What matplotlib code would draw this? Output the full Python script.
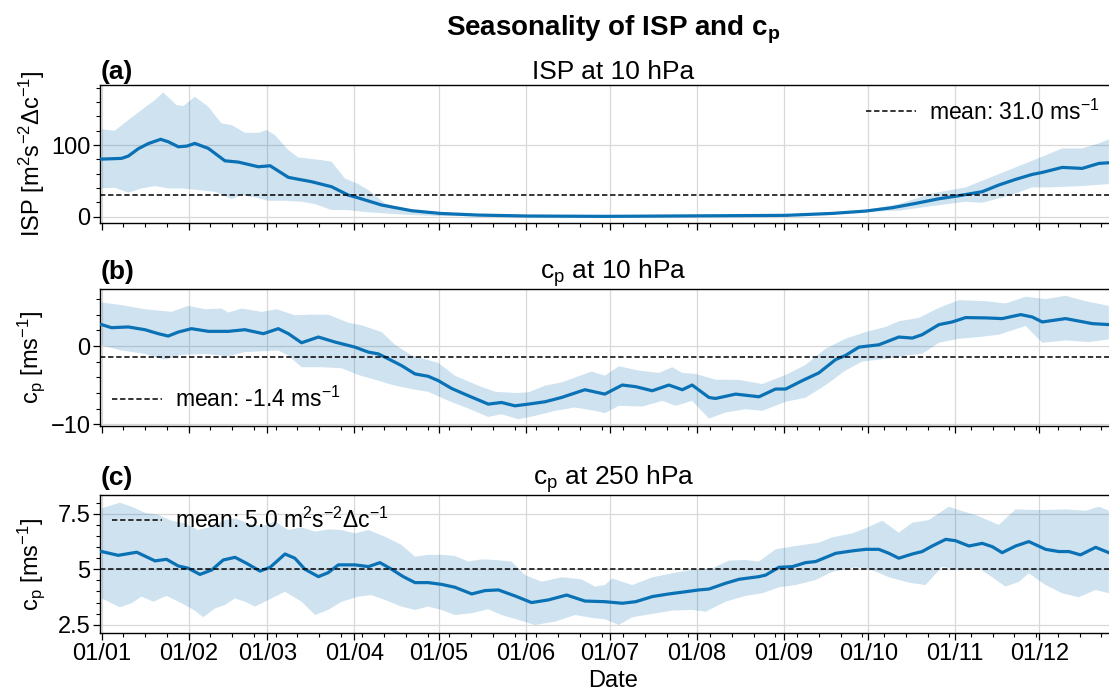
import numpy as np
import matplotlib.pyplot as plt
from matplotlib.ticker import FixedLocator, MultipleLocator

plt.rcParams['font.family'] = ['Liberation Sans', 'DejaVu Sans']
plt.rcParams['mathtext.fontset'] = 'custom'
plt.rcParams['mathtext.rm'] = 'Liberation Sans'
plt.rcParams['mathtext.it'] = 'Liberation Sans:italic'
plt.rcParams['mathtext.bf'] = 'Liberation Sans:bold'

# x axis: day of year, ticks at the first of each month
month_start = [0, 31, 59, 90, 120, 151, 181, 212, 243, 273, 304, 334]
month_labels = ['01/01', '01/02', '01/03', '01/04', '01/05', '01/06',
                '01/07', '01/08', '01/09', '01/10', '01/11', '01/12']

# (a) ISP at 10 hPa
isp_day = [0, 7.1, 9.5, 13.1, 16.6, 21, 23.7, 27.3, 30.3, 33.2, 38, 43.9, 48.7, 55.8, 60, 66.5,
           74.8, 81.9, 87.8, 90.8, 99.7, 110.4, 120.6, 134.1, 151.6, 179.2, 243.6, 260.2, 272.1,
           281.6, 289.9, 298.2, 305.3, 313.6, 319.5, 325.5, 331.4, 335, 342.1, 349.2, 355.2, 358.7]
isp_mean = [80.4, 81.4, 84.6, 95, 102, 108, 104.6, 97.6, 98.5, 102.3, 95.3, 78, 76.2, 69.7, 71.1, 54.9,
            48.8, 41.8, 30.2, 27, 16.3, 8.4, 4.6, 2.3, 1.0, 0.5, 1.9, 4.6, 7.9,
            12.6, 18.6, 25.1, 29.3, 34.9, 44.2, 52.1, 59, 61.8, 68.8, 67.4, 74.4, 75.3]
isp_up_day = [0, 4.7, 9.5, 15.4, 19.0, 21.9, 26.7, 29.1, 33.2, 38, 42.7, 46.3, 51.0, 55.8, 58.8, 61.7,
              66.5, 70.0, 78.3, 81.9, 86.6, 91.4, 95.0, 100.9, 110.4, 120.6, 140.1, 179.2, 243.6,
              272.1, 283.9, 295.8, 307.7, 317.2, 325.5, 335, 342.1, 349.2, 355.2, 358.7]
isp_up = [121.8, 120, 134.8, 152.5, 162.7, 173.4, 155.7, 154.4, 167.4, 153.4, 130.2, 127.8, 117.2, 117,
          120.9, 113.9, 93, 82.8, 79, 76.7, 53.5, 45.6, 37.2, 18.6, 7, 3.7, 1.9, 0.8, 2.5,
          9.3, 17.7, 32.5, 40.9, 55.8, 68.8, 83.7, 95.3, 95.3, 102.3, 107.9]
isp_lo_day = [0, 4.7, 9.5, 14.2, 19.0, 23.7, 28.5, 34.4, 40.4, 46.3, 49.9, 54.6, 59.4, 65.3, 71.2, 76.0,
              81.9, 87.8, 92.6, 100.9, 110.4, 120.6, 140.1, 179.2, 243.6, 272.1, 283.9, 295.8, 307.7,
              313.6, 319.5, 325.5, 331.4, 337.4, 349.2, 358.7]
isp_lo = [39.5, 40.4, 33.5, 39.5, 42.8, 39.5, 39.5, 37.2, 34.9, 24.6, 30.2, 27, 22.3, 22.3, 20.9, 17.7,
          9.3, 9.3, 7, 4.6, 2.3, 1, 0.5, 0.2, 1.2, 7, 8.4, 14.9, 20.9,
          19.5, 25.6, 32.5, 40.9, 40.9, 42.8, 45.6]
isp_avg = 31.0

# (b) c_p at 10 hPa
cp10_day = [0, 3.5, 9.5, 15.4, 20.2, 23.7, 27.3, 32.0, 38.0, 45.1, 51.0, 57.6, 62.9, 66.5, 71.2, 77.2,
            83.1, 90.2, 95.0, 98.5, 102.1, 106.8, 111.6, 116.3, 119.9, 124.6, 130.6, 137.7, 142.4,
            147.2, 152.0, 157.9, 163.8, 172.1, 179.2, 185.4, 190.2, 196.1, 202.0, 206.8, 210.3,
            216.3, 218.6, 225.8, 234.1, 240.0, 243.6, 249.5, 255.4, 261.4, 264.9, 269.7, 276.8,
            283.9, 288.7, 292.2, 298.2, 302.9, 307.7, 314.8, 320.7, 327.3, 331.4, 335.0, 343.3,
            352.8, 358.7]
cp10_mean = [2.75, 2.36, 2.45, 2.1, 1.59, 1.29, 1.8, 2.23, 1.89, 1.89, 2.1, 1.59, 2.23, 1.59, 0.43, 1.16,
             0.52, -0.13, -0.77, -0.99, -1.63, -2.49, -3.56, -3.86, -4.42, -5.41, -6.35, -7.42, -7.21,
             -7.64, -7.42, -7.12, -6.57, -5.58, -6.14, -4.98, -5.19, -5.71, -4.98, -5.58, -4.98,
             -6.57, -6.70, -6.14, -6.48, -5.49, -5.49, -4.42, -3.43, -1.72, -1.2, -0.13, 0.17,
             1.16, 1.03, 1.46, 2.75, 3.09, 3.65, 3.61, 3.52, 4.03, 3.73, 3.09, 3.52,
             2.88, 2.75]
cp10_up_day = [0, 7.1, 15.4, 24.9, 30.8, 36.8, 42.7, 45.1, 49.9, 57.0, 62.3, 68.8, 74.8, 80.7, 87.8,
               92.6, 99.7, 104.5, 110.4, 119.9, 125.8, 134.1, 140.1, 147.2, 152.0, 157.9, 163.8,
               174.5, 179.2, 184.2, 191.3, 198.5, 203.2, 206.8, 211.5, 218.6, 227.0, 235.3, 243.6,
               250.7, 257.8, 264.9, 272.1, 279.2, 283.9, 291.1, 298.2, 305.3, 314.8, 321.9, 329.1,
               336.2, 343.3, 350.4, 358.7]
cp10_up = [5.58, 5.24, 4.72, 4.38, 5.15, 4.72, 4.81, 4.29, 4.81, 4.38, 4.72, 3.95, 4.03, 4.03, 3.0,
           2.66, 1.8, 0.17, -1.2, -2.15, -3.78, -5.06, -5.84, -6.0, -5.92, -5.06, -4.64,
           -3.26, -3.78, -2.58, -3.13, -3.43, -2.7, -3.43, -3.56, -4.29, -4.33, -4.85, -3.69,
           -2.40, -0.34, 0.94, 1.8, 2.45, 3.18, 3.61, 4.89, 5.88, 5.75, 5.45, 6.31,
           6.01, 6.44, 5.75, 5.15]
cp10_lo_day = [0, 7.1, 15.4, 22.5, 28.5, 36.8, 45.1, 51.0, 62.9, 66.5, 71.2, 78.3, 85.5, 91.4, 98.5,
               104.5, 110.4, 116.3, 123.5, 130.6, 137.7, 142.4, 148.4, 154.3, 161.5, 168.6, 175.7,
               179.2, 184.2, 192.5, 199.7, 204.4, 210.3, 216.3, 222.2, 229.3, 235.3, 243.6, 250.7,
               257.8, 264.9, 270.9, 279.2, 286.3, 292.2, 298.2, 305.3, 312.4, 319.5, 329.1, 335.0,
               343.3, 351.6, 358.7]
cp10_lo = [0.09, -0.56, -0.99, -1.72, -1.12, -0.99, -1.29, -0.77, -0.56, -1.2, -2.7, -2.7, -2.83, -3.69,
           -4.42, -5.06, -5.49, -5.84, -7.0, -7.98, -9.06, -8.71, -9.36, -8.93, -8.28, -7.85, -8.28,
           -8.58, -7.64, -7.73, -7.0, -7.64, -7.0, -9.27, -8.5, -8.07, -8.28, -7.12, -6.6,
           -5.0, -3.13, -1.97, -1.63, -1.2, -0.99, 0.43, 0.94, 1.16, 1.46, 2.58, 0.43,
           0.73, 0.52, 0.86]
cp10_avg = -1.4

# (c) c_p at 250 hPa
cp250_day = [0, 5.9, 12.5, 19, 23.1, 27.3, 30.8, 35, 39.2, 43.3, 47.5, 51.6, 56.4, 60, 65.3, 68.8,
             72.4, 77.2, 80.7, 84.3, 90.2, 95, 99.1, 103.3, 107.4, 111.6, 116.3, 121.1, 125.8,
             131.8, 136.5, 141.3, 147.2, 153.1, 159.1, 165.6, 172.1, 179.2, 185.4, 190.2, 196.1,
             202, 208, 212.7, 216.3, 222.2, 227, 234.1, 236.5, 241.2, 246, 250.7, 254.3, 261.4,
             267.3, 272.1, 276.8, 280.4, 283.9, 288.7, 292.2, 295.8, 300.6, 304.1, 308.9, 313.6,
             317.2, 320.7, 325.5, 330.2, 336.2, 340.9, 344.5, 348.6, 354, 358.7]
cp250_mean = [5.80, 5.63, 5.77, 5.38, 5.45, 5.15, 5.05, 4.77, 4.97, 5.42, 5.54, 5.27, 4.92, 5.09, 5.69,
              5.50, 5.0, 4.67, 4.85, 5.20, 5.20, 5.12, 5.30, 5.0, 4.67, 4.40, 4.40, 4.32, 4.19,
              3.89, 4.04, 4.07, 3.80, 3.50, 3.62, 3.84, 3.57, 3.54, 3.47, 3.54, 3.77,
              3.89, 3.99, 4.07, 4.11, 4.37, 4.55, 4.67, 4.74, 5.09, 5.12, 5.30, 5.35, 5.72,
              5.83, 5.90, 5.90, 5.72, 5.50, 5.69, 5.80, 6.05, 6.35, 6.29, 6.05, 6.17,
              6.02, 5.75, 6.05, 6.25, 5.90, 5.80, 5.80, 5.65, 5.99, 5.75]
cp250_up_day = [0, 6.5, 10.7, 15.4, 20.2, 24.9, 29.7, 34.4, 39.2, 43.9, 47.5, 52.2, 57, 61.7, 66.5,
                71.2, 76, 80.7, 85.5, 90.2, 95, 100.9, 106.8, 111.6, 116.3, 121.1, 125.8, 130.6,
                135.3, 140.1, 146, 150.8, 156.7, 163.8, 170.9, 175.7, 179.2, 181.8, 189, 196.1,
                204.4, 211.5, 217.5, 223.4, 229.3, 234.1, 240, 247.1, 255.4, 260.2, 267.3, 272.1,
                278, 283.9, 288.7, 294.6, 301.7, 305.3, 311.2, 319.5, 325.5, 333.8, 343.3, 350.4,
                355.2, 358.7]
cp250_up = [7.75, 8.0, 7.82, 7.55, 7.45, 7.19, 7.07, 6.77, 6.92, 7.22, 7.30, 7.07, 6.95, 7.15, 6.77,
            6.89, 6.70, 6.80, 6.77, 6.62, 6.77, 6.47, 6.10, 5.57, 5.65, 5.65, 5.60, 5.35,
            5.45, 5.42, 5.35, 4.74, 4.44, 4.64, 4.55, 4.22, 4.29, 4.59, 4.29, 4.64,
            4.85, 5.0, 5.05, 5.39, 5.42, 5.35, 5.90, 6.05, 6.20, 6.44, 6.62, 6.85,
            7.19, 6.65, 7.10, 7.22, 7.82, 7.67, 7.45, 7.0, 7.70, 7.67, 7.70, 7.64,
            7.82, 7.64]
cp250_lo_day = [0, 6.5, 10.7, 14.2, 18.4, 23.1, 28.5, 33.2, 36.2, 40.4, 43.9, 47.5, 51, 54.6, 59.4,
                65.3, 71.2, 76, 80.7, 85.5, 91.4, 96.1, 100.9, 106.8, 111.6, 116.3, 121.1, 125.8,
                131.8, 137.7, 142.4, 148.4, 154.3, 161.5, 168.6, 175.7, 179.2, 184.2, 189, 196.1,
                203.2, 210.3, 215.1, 222.2, 229.3, 235.3, 241.2, 247.1, 254.3, 260.2, 268.5, 274.4,
                280.4, 287.5, 293.4, 299.4, 305.3, 312.4, 317.2, 321.9, 326.7, 330.2, 336.2, 342.1,
                348, 354, 358.7]
cp250_lo = [3.69, 3.29, 3.47, 3.77, 3.54, 3.80, 3.47, 3.14, 2.84, 3.24, 3.39, 3.69, 3.54, 3.32, 3.62,
            3.99, 3.54, 2.94, 3.17, 3.54, 3.77, 3.84, 3.62, 3.32, 3.17, 3.32, 3.17, 2.94,
            3.02, 3.20, 2.94, 2.72, 2.49, 2.64, 2.94, 2.79, 2.75, 2.49, 2.84, 2.99,
            3.14, 3.17, 3.09, 3.54, 3.80, 3.92, 4.19, 4.29, 4.52, 4.89, 5.09, 4.97,
            4.64, 4.40, 4.29, 5.12, 4.97, 5.05, 4.64, 4.22, 4.44, 4.82, 4.29, 3.92,
            3.74, 4.07, 3.92]
cp250_avg = 5.0

blue = '#0a71b5'
fs = 17

fig = plt.figure(figsize=(11.09, 6.92), dpi=100)
left, width = 0.0904, 0.9254
ax_a = fig.add_axes([left, 0.6777, width, 0.1994])
ax_b = fig.add_axes([left, 0.3844, width, 0.1980])
ax_c = fig.add_axes([left, 0.0853, width, 0.1994])

panels = [
    (ax_a, isp_day, isp_mean, isp_up_day, isp_up, isp_lo_day, isp_lo, isp_avg,
     'mean: 31.0 ms$^{-1}$', '(a)', 'ISP at 10 hPa', 'ISP [m$^2$s$^{-2}$\u0394c$^{-1}$]',
     (-8.8, 183.7), [0, 100], 20, 'upper right', (0.985, 0.98)),
    (ax_b, cp10_day, cp10_mean, cp10_up_day, cp10_up, cp10_lo_day, cp10_lo, cp10_avg,
     'mean: -1.4 ms$^{-1}$', '(b)', 'c$_\\mathrm{p}$ at 10 hPa', 'c$_\\mathrm{p}$ [ms$^{-1}$]',
     (-10.22, 7.31), [-10, 0], 2, 'lower left', (0.0, 0.02)),
    (ax_c, cp250_day, cp250_mean, cp250_up_day, cp250_up, cp250_lo_day, cp250_lo, cp250_avg,
     'mean: 5.0 m$^2$s$^{-2}$\u0394c$^{-1}$', '(c)', 'c$_\\mathrm{p}$ at 250 hPa', 'c$_\\mathrm{p}$ [ms$^{-1}$]',
     (2.13, 8.35), [2.5, 5, 7.5], 0.5, 'upper left', (0.0, 0.99)),
]

for (ax, d, m, ud, u, ld, lo, avg, leg, tag, title, ylab, ylim, yt, ymin, loc, anchor) in panels:
    band_x = np.concatenate([ud, ld[::-1]])
    band_y = np.concatenate([u, lo[::-1]])
    ax.fill(band_x, band_y, color=blue, alpha=0.2, lw=0, zorder=2)
    ax.plot(d, m, color=blue, lw=2.3, zorder=3, solid_joinstyle='round')
    ax.axhline(avg, color='k', ls='--', lw=1.1, dashes=(3.5, 1.8), zorder=4, label=leg)

    ax.set_xlim(-0.5, 365)
    ax.set_ylim(*ylim)
    ax.xaxis.set_major_locator(FixedLocator(month_start))
    ax.xaxis.set_minor_locator(FixedLocator(np.arange(0, 366, 7.74)))
    ax.yaxis.set_major_locator(FixedLocator(yt))
    ax.yaxis.set_minor_locator(MultipleLocator(ymin))
    if ax is ax_c:
        ax.set_xticklabels(month_labels)
        ax.set_yticklabels(['2.5', '5', '7.5'])
        ax.set_xlabel('Date', fontsize=17, labelpad=4)
    else:
        ax.set_xticklabels([])
    ax.tick_params(which='major', direction='out', length=5, width=0.9, labelsize=fs, pad=2)
    ax.tick_params(which='minor', direction='out', length=3, width=0.8)
    ax.tick_params(top=False, right=False, which='both')

    ax.grid(True, which='major', color='#d8d8d8', lw=0.9)
    ax.set_axisbelow(True)
    for sp in ax.spines.values():
        sp.set_linewidth(1.0)

    ax.set_title(title, fontsize=19, pad=4)
    ax.set_title(tag, loc='left', fontsize=19, fontweight='bold', pad=4)
    ax.set_ylabel(ylab, fontsize=17)
    ax.yaxis.set_label_coords(-0.052, 0.5)

    ax.legend(loc=loc, bbox_to_anchor=anchor, frameon=False, fontsize=16.5,
              handlelength=2.2, handletextpad=0.55, borderaxespad=0.2, borderpad=0.3)

fig.text(left + width / 2, 1 - 30 / 692, 'Seasonality of ISP and c$_\\mathbf{p}$',
         ha='center', va='center', fontsize=20, fontweight='bold')

fig.savefig('out.png', dpi=100)
